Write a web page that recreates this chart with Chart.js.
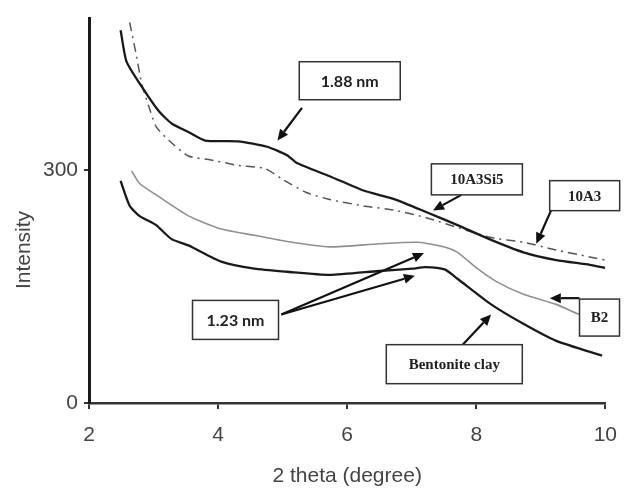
<!DOCTYPE html>
<html>
<head>
<meta charset="utf-8">
<script src="https://cdn.jsdelivr.net/npm/chart.js@4.4.1/dist/chart.umd.min.js"></script>
<style>
  html, body { margin: 0; padding: 0; background: #fff; }
  #xrd { display: block; }
</style>
</head>
<body>
<canvas id="xrd" width="631" height="493"></canvas>
<script>
// 2 theta (degree) / intensity
const theta10A3Si5 = [2.49, 2.58, 2.82, 3.08, 3.28, 3.54, 3.80, 4.31, 4.76, 5.07, 5.22, 5.73, 6.24, 6.75, 7.25, 7.71, 8.23, 8.73, 9.24, 9.76, 10.0];
const int10A3Si5   = [480, 440, 407, 376, 360, 349, 338, 337, 330, 319, 309, 292, 274, 262, 245, 229, 210, 194, 184, 178, 174];

const theta10A3 = [2.63, 2.73, 2.82, 2.93, 3.04, 3.24, 3.54, 3.89, 4.31, 4.72, 5.02, 5.37, 5.73, 6.24, 6.75, 7.25, 7.71, 8.23, 8.73, 9.24, 9.76, 10.0];
const int10A3   = [490, 449, 410, 381, 356, 338, 318, 313, 306, 302, 287, 271, 262, 254, 248, 238, 226, 213, 207, 197, 188, 184];

const thetaB2 = [2.66, 2.78, 3.04, 3.54, 4.05, 4.56, 5.07, 5.73, 6.49, 7.10, 7.51, 7.71, 8.02, 8.32, 8.73, 9.24, 9.60, 10.0];
const intB2   = [299, 283, 268, 241, 224, 216, 208, 201, 205, 207, 201, 194, 173, 156, 140, 127, 114, 108];

const thetaClay = [2.49, 2.63, 2.78, 3.04, 3.28, 3.54, 4.05, 4.56, 5.07, 5.73, 6.49, 7.01, 7.21, 7.51, 7.71, 8.23, 8.73, 9.24, 9.95];
const intClay   = [286, 254, 241, 229, 211, 203, 182, 173, 169, 165, 170, 173, 175, 172, 160, 127, 102, 80, 61];

const xTicks = [2, 4, 6, 8, 10];
const yTicks = [0, 300];

// callout boxes: text, box centre (data), arrows from/to (data)
const callouts = [
  { text: "1.88 nm", x: 6.04, y: 415, w: 101, h: 38, font: "bold 16px Lato", arrows: [[5.30, 380, 4.92, 338]] },
  { text: "10A3Si5", x: 8.01, y: 288, w: 91, h: 31, font: "bold 15px 'Liberation Serif'", arrows: [[7.77, 268, 7.33, 248]] },
  { text: "10A3", x: 9.68, y: 267, w: 70, h: 30, font: "bold 15px 'Liberation Serif'", arrows: [[9.16, 248, 8.93, 205]] },
  { text: "B2", x: 9.91, y: 110, w: 40, h: 37, font: "bold 15px 'Liberation Serif'", arrows: [[9.60, 135, 9.14, 135]] },
  { text: "1.23 nm", x: 4.27, y: 107, w: 86, h: 39, font: "bold 16px Lato", arrows: [[4.98, 114, 7.19, 193], [4.98, 114, 7.05, 164]] },
  { text: "Bentonite clay", x: 7.66, y: 50, w: 136, h: 39, font: "bold 15px 'Liberation Serif'", arrows: [[7.79, 75, 8.23, 114]] }
];

function points(xs, ys) {
  return xs.map((x, i) => ({ x: x, y: ys[i] }));
}

function drawArrow(c, x1, y1, x2, y2) {
  const ang = Math.atan2(y2 - y1, x2 - x1);
  const headLen = 11, headW = 5;
  const bx = x2 - headLen * Math.cos(ang), by = y2 - headLen * Math.sin(ang);
  c.beginPath();
  c.moveTo(x1, y1);
  c.lineTo(bx, by);
  c.stroke();
  c.beginPath();
  c.moveTo(x2, y2);
  c.lineTo(bx + headW * Math.sin(ang), by - headW * Math.cos(ang));
  c.lineTo(bx - headW * Math.sin(ang), by + headW * Math.cos(ang));
  c.closePath();
  c.fill();
}

const calloutPlugin = {
  id: "callouts",
  afterDraw(chart) {
    const c = chart.ctx;
    const xs = chart.scales.x, ys = chart.scales.y;
    c.save();
    // axis titles
    c.fillStyle = "#444";
    c.font = "21px 'Liberation Sans'";
    c.textAlign = "center";
    c.textBaseline = "middle";
    c.fillText("2 theta (degree)", (chart.chartArea.left + chart.chartArea.right) / 2, 476);
    c.translate(24, 250);
    c.rotate(-Math.PI / 2);
    c.fillText("Intensity", 0, 0);
    c.restore();

    c.save();
    callouts.forEach(co => {
      c.strokeStyle = "#111";
      c.fillStyle = "#111";
      c.lineWidth = 2.2;
      co.arrows.forEach(a => {
        drawArrow(c, xs.getPixelForValue(a[0]), ys.getPixelForValue(a[1]),
                     xs.getPixelForValue(a[2]), ys.getPixelForValue(a[3]));
      });
      const cx = xs.getPixelForValue(co.x), cy = ys.getPixelForValue(co.y);
      c.fillStyle = "#fff";
      c.fillRect(cx - co.w / 2, cy - co.h / 2, co.w, co.h);
      c.strokeStyle = "#333";
      c.lineWidth = 1.5;
      c.strokeRect(cx - co.w / 2, cy - co.h / 2, co.w, co.h);
      c.fillStyle = "#222";
      c.font = co.font;
      c.textAlign = "center";
      c.textBaseline = "middle";
      c.fillText(co.text, cx, cy + 1);
    });
    c.restore();
  }
};

const ctx = document.getElementById("xrd");

const graph = new Chart(ctx, {
  type: "line",
  data: {
    datasets: [{
      label: "10A3Si5",
      data: points(theta10A3Si5, int10A3Si5),
      borderColor: "#1a1a1a",
      borderWidth: 2.3,
      pointRadius: 0,
      tension: 0.2
    },
    {
      label: "10A3",
      data: points(theta10A3, int10A3),
      borderColor: "#555",
      borderWidth: 1.5,
      borderDash: [9, 5, 2, 5],
      pointRadius: 0,
      tension: 0.2
    },
    {
      label: "B2",
      data: points(thetaB2, intB2),
      borderColor: "#909090",
      borderWidth: 1.6,
      pointRadius: 0,
      tension: 0.2
    },
    {
      label: "Bentonite clay",
      data: points(thetaClay, intClay),
      borderColor: "#1a1a1a",
      borderWidth: 2.3,
      pointRadius: 0,
      tension: 0.2
    }]
  },
  options: {
    responsive: false,
    animation: false,
    layout: {
      padding: { top: 13, right: 18, left: 0, bottom: 0 }
    },
    scales: {
      x: {
        type: "linear",
        min: 2,
        max: 10,
        afterFit: function(scale) { scale.height = 90; },
        afterBuildTicks: function(scale) { scale.ticks = xTicks.map(v => ({ value: v })); },
        border: { display: true, color: "#333", width: 2.5 },
        grid: { drawOnChartArea: false, drawTicks: true, tickLength: 6, color: "#333", lineWidth: 2 },
        ticks: {
          color: "#444",
          padding: 14,
          maxRotation: 0,
          font: { family: "'Liberation Sans'", size: 21 }
        }
      },
      y: {
        min: 0,
        max: 495,
        afterFit: function(scale) { scale.width = 89; },
        afterBuildTicks: function(scale) { scale.ticks = yTicks.map(v => ({ value: v })); },
        border: { display: true, color: "#1a1a1a", width: 3 },
        grid: { drawOnChartArea: false, drawTicks: true, tickLength: 5, color: "#333", lineWidth: 2 },
        ticks: {
          color: "#444",
          padding: 6,
          font: { family: "'Liberation Sans'", size: 21 }
        }
      }
    },
    plugins: {
      legend: { display: false },
      tooltip: { enabled: false }
    }
  },
  plugins: [calloutPlugin]
});
</script>
</body>
</html>
